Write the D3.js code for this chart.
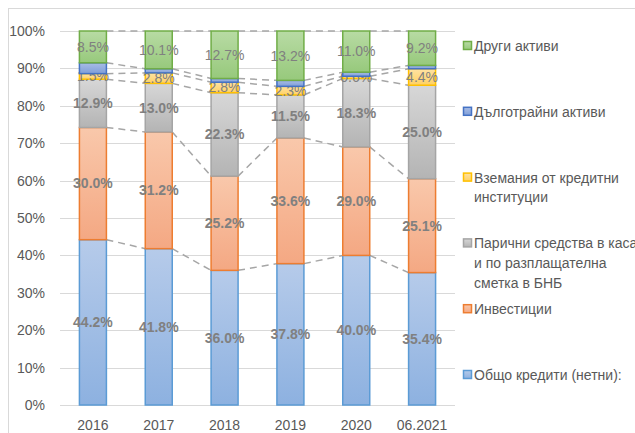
<!DOCTYPE html>
<html>
<head>
<meta charset="utf-8">
<script src="https://cdn.jsdelivr.net/npm/d3@7"></script>
<style>
  html, body { margin: 0; padding: 0; background: #fff; }
  svg { display: block; font-family: "Liberation Sans", Arial, sans-serif; }
</style>
</head>
<body>
<div id="chart"></div>
<script>
  // Categories and series (bottom to top of each stack)
  var years = ['2016', '2017', '2018', '2019', '2020', '06.2021'];
  var seriesNames = [
    'Общо кредити (нетни):',
    'Инвестиции',
    'Парични средства в каса\nи по разплащателна\nсметка в БНБ',
    'Вземания от кредитни\nинституции',
    'Дълготрайни активи',
    'Други активи'
  ];
  var loans = [44.2, 41.8, 36.0, 37.8, 40.0, 35.4];
  var investments = [30.0, 31.2, 25.2, 33.6, 29.0, 25.1];
  var cash = [12.9, 13.0, 22.3, 11.5, 18.3, 25.0];
  var receivables = [1.5, 2.8, 2.8, 2.3, 0.6, 4.4];
  var fixedAssets = [2.9, 1.1, 1.0, 1.6, 1.1, 0.9];
  var otherAssets = [8.5, 10.1, 12.7, 13.2, 11.0, 9.2];
  var yTicks = [0, 10, 20, 30, 40, 50, 60, 70, 80, 90, 100];

  var seriesValues = [loans, investments, cash, receivables, fixedAssets, otherAssets];
  // label shown on bar? (fixed assets has no labels) and weight of label
  var showLabel = [true, true, true, true, false, true];
  var boldLabel = [true, true, true, false, false, false];

  // top colour, bottom colour, outline
  var palette = [
    ['#b6cbea', '#8db1e0', '#5b9bd5'],
    ['#f9c8ab', '#f4a883', '#ed7d31'],
    ['#d7d7d7', '#b4b4b4', '#a5a5a5'],
    ['#ffe2a3', '#ffd163', '#ffc000'],
    ['#a9bde6', '#7f9ed8', '#4472c4'],
    ['#b8dba4', '#97c97c', '#70ad47']
  ];

  var width = 635, height = 433;
  var svg = d3.select('#chart').append('svg')
    .attr('width', width)
    .attr('height', height);

  var defs = svg.append('defs');
  palette.forEach(function (p, i) {
    var g = defs.append('linearGradient')
      .attr('id', 'grad-' + i)
      .attr('x1', 0).attr('y1', 0).attr('x2', 0).attr('y2', 1);
    g.append('stop').attr('offset', '0%').attr('stop-color', p[0]);
    g.append('stop').attr('offset', '100%').attr('stop-color', p[1]);
  });

  // chart area border (only top/left visible in the picture)
  svg.append('rect')
    .attr('x', 8.5).attr('y', 8.5)
    .attr('width', 700).attr('height', 500)
    .attr('fill', 'none')
    .attr('stroke', '#d9d9d9');

  var x = d3.scaleBand()
    .domain(years)
    .range([60, 455])
    .paddingInner(0.59)
    .paddingOuter(0.295);

  var y = d3.scaleLinear()
    .domain([0, 100])
    .range([405, 31]);

  // gridlines
  svg.append('g').selectAll('line')
    .data(yTicks)
    .enter()
    .append('line')
    .attr('x1', 60).attr('x2', 455)
    .attr('y1', function (d) { return Math.round(y(d)) + 0.5; })
    .attr('y2', function (d) { return Math.round(y(d)) + 0.5; })
    .attr('stroke', '#d9d9d9')
    .attr('stroke-width', 1);

  // y tick labels
  svg.append('g').selectAll('text')
    .data(yTicks)
    .enter()
    .append('text')
    .attr('x', 45)
    .attr('y', function (d) { return y(d); })
    .attr('dy', '0.35em')
    .attr('text-anchor', 'end')
    .attr('font-size', 14)
    .attr('fill', '#595959')
    .text(function (d) { return d + '%'; });

  // x labels
  svg.append('g').selectAll('text')
    .data(years)
    .enter()
    .append('text')
    .attr('x', function (d) { return x(d) + x.bandwidth() / 2; })
    .attr('y', 430)
    .attr('text-anchor', 'middle')
    .attr('font-size', 14)
    .attr('fill', '#595959')
    .text(function (d) { return d; });

  // stack data
  var rows = years.map(function (yr, i) {
    var row = { year: yr };
    seriesValues.forEach(function (vals, s) { row['s' + s] = vals[i]; });
    return row;
  });
  var keys = seriesValues.map(function (v, s) { return 's' + s; });
  var stacked = d3.stack().keys(keys)(rows);

  // series lines (dashed connectors between bar tops)
  var connectors = svg.append('g');
  stacked.forEach(function (layer) {
    for (var i = 0; i < layer.length - 1; i++) {
      connectors.append('line')
        .attr('x1', x(years[i]) + x.bandwidth())
        .attr('x2', x(years[i + 1]))
        .attr('y1', y(layer[i][1]))
        .attr('y2', y(layer[i + 1][1]))
        .attr('stroke', '#a6a6a6')
        .attr('stroke-width', 1.5)
        .attr('stroke-dasharray', '7,5');
    }
  });

  // bars
  var layers = svg.append('g').selectAll('g')
    .data(stacked)
    .enter()
    .append('g');

  layers.selectAll('rect')
    .data(function (d) { return d; })
    .enter()
    .append('rect')
    .attr('x', function (d) { return x(d.data.year); })
    .attr('y', function (d) { return y(d[1]); })
    .attr('width', x.bandwidth())
    .attr('height', function (d) { return y(d[0]) - y(d[1]); })
    .attr('fill', function () { return 'url(#grad-' + d3.select(this.parentNode).datum().index + ')'; })
    .attr('stroke', function () { return palette[d3.select(this.parentNode).datum().index][2]; })
    .attr('stroke-width', 1.5);

  // data labels
  layers.each(function (layer) {
    var s = layer.index;
    if (!showLabel[s]) return;
    d3.select(this).selectAll('text')
      .data(layer)
      .enter()
      .append('text')
      .attr('x', function (d) { return x(d.data.year) + x.bandwidth() / 2; })
      .attr('y', function (d) { return (y(d[0]) + y(d[1])) / 2; })
      .attr('dy', '0.35em')
      .attr('text-anchor', 'middle')
      .attr('font-size', 14)
      .attr('font-weight', boldLabel[s] ? 'bold' : 'normal')
      .attr('fill', '#808080')
      .text(function (d) { return (d[1] - d[0]).toFixed(1) + '%'; });
  });

  // legend, top entry is the top series
  var legendTop = 46, legendStep = 65.8;
  var legendOrder = d3.range(seriesNames.length).reverse();
  var legend = svg.append('g').selectAll('g')
    .data(legendOrder)
    .enter()
    .append('g')
    .attr('transform', function (s, i) { return 'translate(463,' + (legendTop + i * legendStep) + ')'; });

  legend.append('rect')
    .attr('x', 0.5).attr('y', -4.5)
    .attr('width', 8).attr('height', 8)
    .attr('fill', function (s) { return 'url(#grad-' + s + ')'; })
    .attr('stroke', function (s) { return palette[s][2]; })
    .attr('stroke-width', 1.5);

  legend.each(function (s) {
    var lines = seriesNames[s].split('\n');
    var t = d3.select(this).append('text')
      .attr('font-size', 14)
      .attr('fill', '#595959');
    lines.forEach(function (line, k) {
      t.append('tspan')
        .attr('x', 11)
        .attr('y', k * 20)
        .attr('dy', '0.35em')
        .text(line);
    });
  });
</script>
</body>
</html>
